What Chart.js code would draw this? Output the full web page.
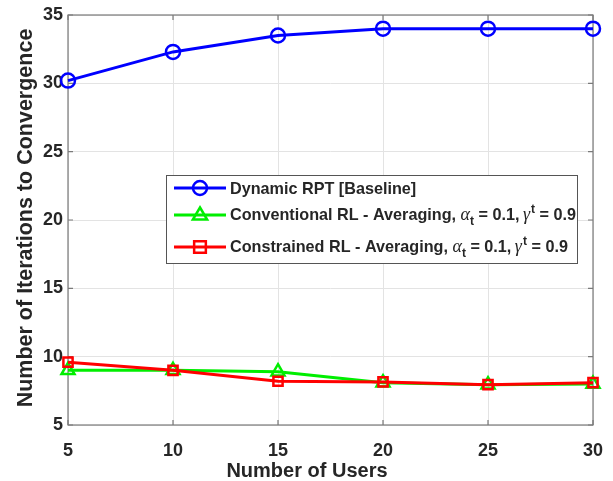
<!DOCTYPE html>
<html><head><meta charset="utf-8">
<script src="https://cdn.jsdelivr.net/npm/chart.js@4/dist/chart.umd.min.js"></script>
<style>html,body{margin:0;padding:0;background:#fff}#wrap{width:613px;height:481px;position:relative}</style>
</head><body><div id="wrap"><canvas id="c"></canvas></div>
<script>
const users = [5, 10, 15, 20, 25, 30];
const dynamicRPT = [30.2, 32.3, 33.5, 34.0, 34.0, 34.0];
const conventionalRL = [9.0, 9.0, 8.9, 8.1, 7.95, 8.0];
const constrainedRL = [9.6, 9.0, 8.2, 8.15, 7.95, 8.1];
const xTickValues = [5, 10, 15, 20, 25, 30];
const yTickValues = [5, 10, 15, 20, 25, 30, 35];
const xTitle = 'Number of Users';
const yTitle = 'Number of Iterations to Convergence';
const seriesNames = ['Dynamic RPT [Baseline]', 'Conventional RL - Averaging, ', 'Constrained RL - Averaging, '];
const paramText = { alpha: '\u03B1', alphaSub: 't', alphaVal: ' = 0.1, ', gamma: '\u03B3', gammaSup: 't', gammaVal: ' = 0.9' };

const FONT = '"Liberation Sans", Arial, Helvetica, sans-serif';
const AXIS = '#7a7a7a';
const TEXT = '#262626';

const colors = ['#0000ff', '#00ee00', '#ff0000'];
const markers = ['circle', 'triangle', 'rect'];
const radii = [7, 7.5, 6.5];

function drawMarker(ctx, style, x, y, r, color) {
  ctx.save();
  ctx.strokeStyle = color; ctx.lineWidth = 2.5;
  ctx.beginPath();
  if (style === 'circle') ctx.arc(x, y, r, 0, Math.PI * 2);
  else if (style === 'triangle') {
    ctx.moveTo(x, y - r); ctx.lineTo(x + r * 0.95, y + r * 0.6); ctx.lineTo(x - r * 0.95, y + r * 0.6); ctx.closePath();
  } else ctx.rect(x - r * 0.9, y - r * 0.9, r * 1.8, r * 1.8);
  ctx.stroke();
  ctx.restore();
}

const framePlugin = {
  id: 'frame',
  beforeDatasetsDraw(chart) {
    const { ctx, chartArea: a, scales: { x, y } } = chart;
    ctx.save();
    ctx.strokeStyle = AXIS; ctx.lineWidth = 1.2;
    ctx.strokeRect(a.left, a.top, a.right - a.left, a.bottom - a.top);
    ctx.beginPath();
    const tl = 5;
    xTickValues.forEach(v => {
      const px = x.getPixelForValue(v);
      ctx.moveTo(px, a.bottom); ctx.lineTo(px, a.bottom - tl);
      ctx.moveTo(px, a.top); ctx.lineTo(px, a.top + tl);
    });
    yTickValues.forEach(v => {
      const py = y.getPixelForValue(v);
      ctx.moveTo(a.left, py); ctx.lineTo(a.left + tl, py);
      ctx.moveTo(a.right, py); ctx.lineTo(a.right - tl, py);
    });
    ctx.stroke();
    ctx.restore();
  },
  afterDraw(chart) {
    const { ctx } = chart;
    ctx.save();
    // axis titles
    ctx.fillStyle = TEXT;
    ctx.font = 'bold 20px ' + FONT;
    ctx.textAlign = 'center'; ctx.textBaseline = 'alphabetic';
    ctx.fillText(xTitle, 307, 477);
    ctx.save();
    ctx.translate(32, 218);
    ctx.rotate(-Math.PI / 2);
    ctx.font = 'bold 21.5px ' + FONT;
    ctx.fillText(yTitle, 0, 0);
    ctx.restore();

    // legend box
    const L = 166, T = 175, R = 577, B = 263;
    ctx.fillStyle = '#fff';
    ctx.fillRect(L, T, R - L, B - T);
    ctx.strokeStyle = '#555'; ctx.lineWidth = 1;
    ctx.strokeRect(L + 0.5, T + 0.5, R - L, B - T);
    const rowsY = [188, 215, 247];
    const baseY = [193.5, 219.5, 251.5];
    const fs = 16.2;
    seriesNames.forEach((name, i) => {
      const cy = rowsY[i];
      ctx.strokeStyle = colors[i]; ctx.lineWidth = 3;
      ctx.beginPath(); ctx.moveTo(174, cy); ctx.lineTo(226, cy); ctx.stroke();
      drawMarker(ctx, markers[i], 200, cy, radii[i], colors[i]);
      ctx.fillStyle = TEXT; ctx.textAlign = 'left'; ctx.textBaseline = 'alphabetic';
      let xx = 230;
      const by = baseY[i];
      ctx.font = 'bold ' + fs + 'px ' + FONT;
      ctx.fillText(name, xx, by); xx += ctx.measureText(name).width;
      if (i > 0) {
        ctx.font = 'italic 18px "Liberation Serif", "DejaVu Serif", serif';
        ctx.fillText(paramText.alpha, xx, by); xx += ctx.measureText(paramText.alpha).width;
        ctx.font = 'bold 12px ' + FONT;
        ctx.fillText(paramText.alphaSub, xx, by + 5); xx += ctx.measureText(paramText.alphaSub).width;
        ctx.font = 'bold ' + fs + 'px ' + FONT;
        ctx.fillText(paramText.alphaVal, xx, by); xx += ctx.measureText(paramText.alphaVal).width - 1;
        ctx.font = 'italic 18px "Liberation Serif", "DejaVu Serif", serif';
        ctx.fillText(paramText.gamma, xx, by); xx += ctx.measureText(paramText.gamma).width;
        ctx.font = 'bold 12px ' + FONT;
        ctx.fillText(paramText.gammaSup, xx + 1, by - 7); xx += ctx.measureText(paramText.gammaSup).width + 1;
        ctx.font = 'bold ' + fs + 'px ' + FONT;
        ctx.fillText(paramText.gammaVal, xx, by);
      }
    });
    ctx.restore();
  }
};

const series = [dynamicRPT, conventionalRL, constrainedRL];
const datasets = series.map((vals, i) => ({
  label: seriesNames[i],
  data: users.map((u, k) => ({ x: u, y: vals[k] })),
  borderColor: colors[i],
  backgroundColor: 'rgba(0,0,0,0)',
  borderWidth: 3,
  pointStyle: markers[i],
  pointRadius: radii[i],
  pointBorderWidth: 2.5,
  pointBorderColor: colors[i],
  pointBackgroundColor: 'rgba(0,0,0,0)',
  tension: 0,
  clip: false,
  order: 2 - i
}));

new Chart(document.getElementById('c'), {
  type: 'line',
  data: { datasets },
  options: {
    responsive: true,
    maintainAspectRatio: false,
    animation: false,
    devicePixelRatio: 1,
    layout: { padding: { left: 0, right: 20, top: 15, bottom: 0 } },
    plugins: { legend: { display: false }, tooltip: { enabled: false } },
    scales: {
      x: {
        type: 'linear', min: 5, max: 30,
        afterFit: s => { s.height = 56; s.paddingLeft = 0; s.paddingRight = 0; },
        afterBuildTicks: s => { s.ticks = xTickValues.map(v => ({ value: v })); },
        grid: { color: '#e3e3e3', lineWidth: 1, drawTicks: false },
        border: { display: false },
        ticks: { font: { family: FONT, size: 18, weight: 'bold' }, color: TEXT, padding: 15, maxRotation: 0 }
      },
      y: {
        type: 'linear', min: 5, max: 35,
        afterFit: s => { s.width = 68; s.paddingTop = 0; s.paddingBottom = 0; },
        afterBuildTicks: s => { s.ticks = yTickValues.map(v => ({ value: v })); },
        grid: { color: '#e3e3e3', lineWidth: 1, drawTicks: false },
        border: { display: false },
        ticks: { font: { family: FONT, size: 18, weight: 'bold' }, color: TEXT, padding: 5 }
      }
    }
  },
  plugins: [framePlugin]
});
</script>
</body></html>
